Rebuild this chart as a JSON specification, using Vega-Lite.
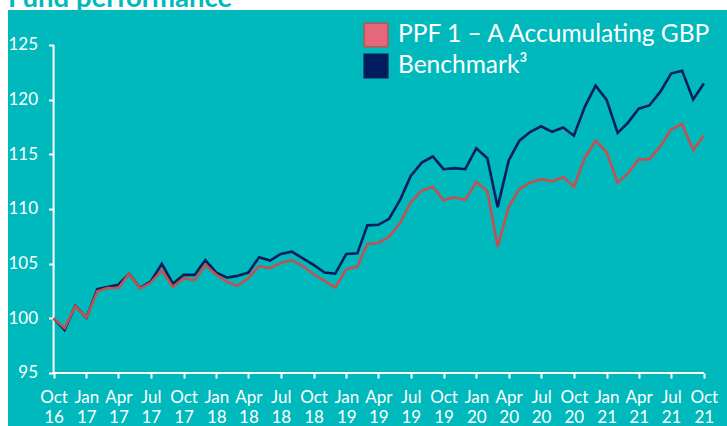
{
  "$schema": "https://vega.github.io/schema/vega-lite/v6.json",
  "width": 719,
  "height": 416,
  "autosize": {"type": "none"},
  "padding": {"left": 8, "top": 10, "right": 0, "bottom": 0},
  "background": "white",
  "view": {"fill": "#00B9BD", "stroke": null},
  "title": {"text": "Fund performance", "anchor": "start", "frame": "group", "color": "#00B9BD", "fontSize": 27.5, "font": "Lato", "fontWeight": "bold", "offset": -24.5, "baseline": "alphabetic"},
  "config": {"axis": {"labelOverlap": false}},
  "datasets": {
    "perf": [
      {"date": "2016-10-01", "PPF": 100, "Benchmark": 100},
      {"date": "2016-11-01", "PPF": 99.1, "Benchmark": 98.94},
      {"date": "2016-12-01", "PPF": 101.1, "Benchmark": 101.15},
      {"date": "2017-01-01", "PPF": 100.05, "Benchmark": 100.05},
      {"date": "2017-02-01", "PPF": 102.47, "Benchmark": 102.67},
      {"date": "2017-03-01", "PPF": 102.77, "Benchmark": 102.87},
      {"date": "2017-04-01", "PPF": 102.77, "Benchmark": 103.07},
      {"date": "2017-05-01", "PPF": 104.08, "Benchmark": 104.08},
      {"date": "2017-06-01", "PPF": 102.72, "Benchmark": 102.77},
      {"date": "2017-07-01", "PPF": 103.27, "Benchmark": 103.37},
      {"date": "2017-08-01", "PPF": 104.38, "Benchmark": 104.98},
      {"date": "2017-09-01", "PPF": 102.87, "Benchmark": 103.17},
      {"date": "2017-10-01", "PPF": 103.67, "Benchmark": 103.97},
      {"date": "2017-11-01", "PPF": 103.47, "Benchmark": 103.97},
      {"date": "2017-12-01", "PPF": 104.88, "Benchmark": 105.33},
      {"date": "2018-01-01", "PPF": 103.98, "Benchmark": 104.18},
      {"date": "2018-02-01", "PPF": 103.32, "Benchmark": 103.72},
      {"date": "2018-03-01", "PPF": 102.97, "Benchmark": 103.88},
      {"date": "2018-04-01", "PPF": 103.67, "Benchmark": 104.18},
      {"date": "2018-05-01", "PPF": 104.78, "Benchmark": 105.59},
      {"date": "2018-06-01", "PPF": 104.58, "Benchmark": 105.28},
      {"date": "2018-07-01", "PPF": 105.08, "Benchmark": 105.89},
      {"date": "2018-08-01", "PPF": 105.33, "Benchmark": 106.09},
      {"date": "2018-09-01", "PPF": 104.78, "Benchmark": 105.49},
      {"date": "2018-10-01", "PPF": 104.03, "Benchmark": 104.88},
      {"date": "2018-11-01", "PPF": 103.42, "Benchmark": 104.18},
      {"date": "2018-12-01", "PPF": 102.82, "Benchmark": 104.08},
      {"date": "2019-01-01", "PPF": 104.48, "Benchmark": 105.89},
      {"date": "2019-02-01", "PPF": 104.73, "Benchmark": 105.94},
      {"date": "2019-03-01", "PPF": 106.79, "Benchmark": 108.5},
      {"date": "2019-04-01", "PPF": 106.89, "Benchmark": 108.55},
      {"date": "2019-05-01", "PPF": 107.45, "Benchmark": 109.1},
      {"date": "2019-06-01", "PPF": 108.71, "Benchmark": 110.82},
      {"date": "2019-07-01", "PPF": 110.62, "Benchmark": 113.03},
      {"date": "2019-08-01", "PPF": 111.68, "Benchmark": 114.24},
      {"date": "2019-09-01", "PPF": 112.03, "Benchmark": 114.8},
      {"date": "2019-10-01", "PPF": 110.82, "Benchmark": 113.64},
      {"date": "2019-11-01", "PPF": 111.07, "Benchmark": 113.74},
      {"date": "2019-12-01", "PPF": 110.82, "Benchmark": 113.64},
      {"date": "2020-01-01", "PPF": 112.48, "Benchmark": 115.55},
      {"date": "2020-02-01", "PPF": 111.62, "Benchmark": 114.64},
      {"date": "2020-03-01", "PPF": 106.54, "Benchmark": 110.17},
      {"date": "2020-04-01", "PPF": 110.17, "Benchmark": 114.44},
      {"date": "2020-05-01", "PPF": 111.83, "Benchmark": 116.25},
      {"date": "2020-06-01", "PPF": 112.43, "Benchmark": 117.06},
      {"date": "2020-07-01", "PPF": 112.73, "Benchmark": 117.56},
      {"date": "2020-08-01", "PPF": 112.53, "Benchmark": 117.06},
      {"date": "2020-09-01", "PPF": 112.93, "Benchmark": 117.46},
      {"date": "2020-10-01", "PPF": 112.03, "Benchmark": 116.7},
      {"date": "2020-11-01", "PPF": 114.69, "Benchmark": 119.37},
      {"date": "2020-12-01", "PPF": 116.25, "Benchmark": 121.28},
      {"date": "2021-01-01", "PPF": 115.19, "Benchmark": 119.98},
      {"date": "2021-02-01", "PPF": 112.43, "Benchmark": 116.96},
      {"date": "2021-03-01", "PPF": 113.23, "Benchmark": 117.86},
      {"date": "2021-04-01", "PPF": 114.54, "Benchmark": 119.17},
      {"date": "2021-05-01", "PPF": 114.54, "Benchmark": 119.47},
      {"date": "2021-06-01", "PPF": 115.75, "Benchmark": 120.73},
      {"date": "2021-07-01", "PPF": 117.26, "Benchmark": 122.39},
      {"date": "2021-08-01", "PPF": 117.76, "Benchmark": 122.64},
      {"date": "2021-09-01", "PPF": 115.4, "Benchmark": 120.02},
      {"date": "2021-10-01", "PPF": 116.71, "Benchmark": 121.48}
    ],
    "yaxis": [{"d": "2016-10-01", "lo": 95, "hi": 125}],
    "xaxis": [{"d1": "2016-10-01", "d2": "2021-10-01", "v": 95}]
  },
  "layer": [
    {
      "data": {"name": "yaxis"},
      "mark": {"type": "rule", "color": "white", "strokeWidth": 2},
      "encoding": {
        "x": {"field": "d", "type": "temporal", "scale": {"type": "utc", "domain": [{"year": 2016, "month": 5, "date": 26, "utc": true}, {"year": 2021, "month": 12, "date": 5, "utc": true}]},
          "axis": {"orient": "bottom", "offset": -53, "domain": false, "grid": false, "title": null, "tickCount": 40,
            "values": [
              {"year": 2016, "month": 10, "date": 1, "utc": true},
              {"year": 2017, "month": 1, "date": 1, "utc": true},
              {"year": 2017, "month": 4, "date": 1, "utc": true},
              {"year": 2017, "month": 7, "date": 1, "utc": true},
              {"year": 2017, "month": 10, "date": 1, "utc": true},
              {"year": 2018, "month": 1, "date": 1, "utc": true},
              {"year": 2018, "month": 4, "date": 1, "utc": true},
              {"year": 2018, "month": 7, "date": 1, "utc": true},
              {"year": 2018, "month": 10, "date": 1, "utc": true},
              {"year": 2019, "month": 1, "date": 1, "utc": true},
              {"year": 2019, "month": 4, "date": 1, "utc": true},
              {"year": 2019, "month": 7, "date": 1, "utc": true},
              {"year": 2019, "month": 10, "date": 1, "utc": true},
              {"year": 2020, "month": 1, "date": 1, "utc": true},
              {"year": 2020, "month": 4, "date": 1, "utc": true},
              {"year": 2020, "month": 7, "date": 1, "utc": true},
              {"year": 2020, "month": 10, "date": 1, "utc": true},
              {"year": 2021, "month": 1, "date": 1, "utc": true},
              {"year": 2021, "month": 4, "date": 1, "utc": true},
              {"year": 2021, "month": 7, "date": 1, "utc": true},
              {"year": 2021, "month": 10, "date": 1, "utc": true}
            ],
            "labelExpr": "[utcFormat(datum.value, '%b'), utcFormat(datum.value, '%y')]",
            "labelColor": "white", "labelFont": "Lato", "labelFontSize": 17, "labelLineHeight": 20,
            "labelPadding": 11, "labelFlush": false, "labelOverlap": false, "labelBound": false,
            "tickColor": "white", "tickSize": 5, "tickWidth": 2}},
        "y": {"field": "lo", "type": "quantitative", "scale": {"domain": [90.15, 128.2], "nice": false, "zero": false},
          "axis": {"orient": "left", "offset": -45.5, "domain": false, "grid": false, "title": null, "tickCount": 20,
            "values": [95, 100, 105, 110, 115, 120, 125],
            "labelColor": "white", "labelFont": "Lato", "labelFontSize": 17, "labelPadding": 11,
            "tickColor": "white", "tickSize": 5, "tickWidth": 2, "labelBound": false, "labelFlush": false}},
        "y2": {"field": "hi"}
      }
    },
    {
      "data": {"name": "xaxis"},
      "mark": {"type": "rule", "color": "white", "strokeWidth": 2},
      "encoding": {
        "x": {"field": "d1", "type": "temporal", "title": null},
        "x2": {"field": "d2"},
        "y": {"field": "v", "type": "quantitative", "title": null}
      }
    },
    {
      "data": {"name": "perf"},
      "transform": [{"fold": ["PPF", "Benchmark"], "as": ["series", "value"]}, {"filter": "datum.series == 'Benchmark'"}],
      "mark": {"type": "line", "strokeWidth": 2.6},
      "encoding": {
        "x": {"field": "date", "type": "temporal", "title": null},
        "y": {"field": "value", "type": "quantitative", "title": null},
        "color": {"field": "series", "type": "nominal", "scale": {"domain": ["PPF", "Benchmark"], "range": ["#C4504F", "#0B1E5B"]},
          "legend": {"orient": "none", "legendX": 355, "legendY": 12, "title": null, "padding": 0,
            "symbolType": "square", "symbolSize": 560, "symbolStrokeWidth": 1.5,
            "labelColor": "white", "labelFont": "Lato", "labelFontSize": 24.5, "labelOffset": 9, "rowPadding": 1, "labelLimit": 0,
            "labelExpr": "datum.value == 'PPF' ? 'PPF 1 – A Accumulating GBP' : 'Benchmark³'",
            "encode": {"symbols": {"update": {"fill": {"signal": "datum.value == 'PPF' ? '#E5677A' : '#001E5F'"}, "stroke": {"value": "#E6E6E6"}, "strokeWidth": {"value": 1.5}, "opacity": {"value": 1}}}}}}
      }
    },
    {
      "data": {"name": "perf"},
      "transform": [{"fold": ["PPF", "Benchmark"], "as": ["series", "value"]}, {"filter": "datum.series == 'PPF'"}],
      "mark": {"type": "line", "strokeWidth": 2.6},
      "encoding": {
        "x": {"field": "date", "type": "temporal", "title": null},
        "y": {"field": "value", "type": "quantitative", "title": null},
        "color": {"field": "series", "type": "nominal"}
      }
    }
  ]
}
